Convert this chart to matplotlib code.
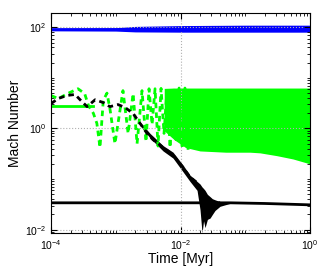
import numpy as np
import matplotlib
matplotlib.use("Agg")
import matplotlib.pyplot as plt
from matplotlib.ticker import LogLocator, NullFormatter

plt.rcParams['font.family'] = ['Liberation Sans', 'DejaVu Sans']
plt.rcParams['mathtext.fontset'] = 'custom'
plt.rcParams['mathtext.rm'] = 'Liberation Sans'
plt.rcParams['mathtext.it'] = 'Liberation Sans:italic'

# blue band near M ~ 90 (read as lower / upper envelope)
blue_t = [1e-4, 1e-3, 2e-3, 1e-2, 1e-1, 1.0]
blue_lo = [85, 84, 81, 80, 80, 80]
blue_hi = [96, 98, 104, 108, 110, 110]
blue_mid = [90, 90, 90, 89, 89, 89]

# green solid (flat, early times)
green_solid_t = [1e-4, 4.5e-4]
green_solid_m = [2.84, 2.84]

# green dashed, zigzag before it turns into a dense band
green_zig_t = [1.0e-4, 1.3e-4, 1.8e-4, 2.6e-4, 3.3e-4, 3.8e-4, 4.5e-4, 5.1e-4,
               5.7e-4, 6.4e-4, 7.3e-4, 8.1e-4, 9.7e-4, 1.29e-3, 1.55e-3, 1.85e-3,
               2.13e-3, 2.54e-3, 2.93e-3, 3.26e-3, 3.63e-3, 4.04e-3, 4.49e-3, 5.0e-3,
               5.56e-3, 6.19e-3, 6.89e-3, 7.66e-3, 8.53e-3, 9.49e-3, 1.06e-2, 1.17e-2,
               1.31e-2]
green_zig_m = [4.47, 3.9, 4.9, 6.1, 4.9, 2.8, 2.0, 1.26,
               0.42, 3.56, 5.0, 2.5, 0.5, 5.6, 0.8, 4.9,
               0.5, 5.6, 0.55, 6.1, 1.2, 6.1, 0.45, 6.2,
               0.8, 6.2, 0.42, 6.3, 0.6, 6.3, 0.4, 6.3,
               0.38]

# green dashed, dense oscillation band (envelopes)
green_band_t = [5.6e-3, 8e-3, 1.2e-2, 2e-2, 5e-2, 0.118, 0.169, 0.309, 0.546, 1.0]
green_band_lo = [0.9, 0.6, 0.42, 0.36, 0.34, 0.34, 0.33, 0.29, 0.25, 0.2]
green_band_hi = [6.2, 6.3, 6.3, 6.3, 6.3, 6.3, 6.3, 6.3, 6.3, 6.3]

# black solid
black_solid_t = [1e-4, 5.8e-2, 0.2, 1.0]
black_solid_m = [0.034, 0.034, 0.033, 0.031]

# black dashed, trend
black_dash_t = [1.0e-4, 1.28e-4, 1.77e-4, 2.35e-4, 2.81e-4, 3.6e-4, 4.8e-4, 6.4e-4,
                8.1e-4, 1.08e-3, 1.39e-3, 1.85e-3, 2.37e-3, 3.04e-3, 3.76e-3, 5.37e-3,
                7.66e-3, 1.09e-2, 1.4e-2, 1.8e-2, 2.0e-2, 2.39e-2, 2.86e-2, 4.07e-2]
black_dash_m = [3.1, 3.9, 4.5, 4.7, 3.7, 2.7, 3.7, 3.25,
                2.7, 2.97, 2.6, 1.98, 1.26, 0.8, 0.6, 0.42,
                0.3, 0.17, 0.11, 0.085, 0.065, 0.045, 0.036, 0.034]

# black dashed, scatter spread (envelopes)
black_band_t = [2.37e-3, 3.38e-3, 5.37e-3, 7.66e-3, 1.09e-2, 1.4e-2, 1.8e-2, 2.0e-2,
                2.15e-2, 2.27e-2, 2.39e-2, 2.6e-2, 2.86e-2, 3.1e-2, 3.41e-2, 4.07e-2,
                4.86e-2, 5.8e-2]
black_band_lo = [1.15, 0.65, 0.36, 0.26, 0.14, 0.09, 0.06, 0.025,
                 0.0087, 0.015, 0.011, 0.016, 0.017, 0.02, 0.024, 0.029,
                 0.031, 0.033]
black_band_hi = [1.35, 0.8, 0.46, 0.34, 0.19, 0.12, 0.09, 0.08,
                 0.07, 0.065, 0.06, 0.05, 0.045, 0.041, 0.039, 0.036,
                 0.035, 0.034]

fig = plt.figure(figsize=(3.36, 2.73), dpi=100)
ax = fig.add_axes([0.152, 0.1465, 0.7706, 0.8055])

green = (0, 1, 0)
ax.plot(green_solid_t, green_solid_m, color=green, lw=2)
ax.fill_between(blue_t, blue_lo, blue_hi, color='blue', lw=0)
ax.plot(blue_t, blue_mid, color='blue', lw=2)
ax.fill_between(green_band_t, green_band_lo, green_band_hi, color=green, lw=0)
ax.plot(green_zig_t, green_zig_m, color=green, lw=2, ls=(0, (2, 1.5)))
ax.plot(black_solid_t, black_solid_m, color='black', lw=2)
ax.fill_between(black_band_t, black_band_lo, black_band_hi, color='black', lw=0)
ax.plot(black_dash_t, black_dash_m, color='black', lw=2, ls=(0, (2, 1.5)))

ax.set_xscale('log')
ax.set_yscale('log')
ax.set_xlim(1e-4, 1.0)
ax.set_ylim(10**-2.065, 10**2.28)

ax.set_xticks([1e-4, 1e-2, 1.0])
ax.set_yticks([1e-2, 1.0, 1e2])
ax.xaxis.set_minor_locator(LogLocator(base=10, subs=np.arange(1, 10), numticks=20))
ax.yaxis.set_minor_locator(LogLocator(base=10, subs=np.arange(1, 10), numticks=20))
ax.xaxis.set_minor_formatter(NullFormatter())
ax.yaxis.set_minor_formatter(NullFormatter())
ax.tick_params(which='both', direction='in', top=True, right=True, labelsize=7.5)
ax.tick_params(which='major', length=4)
ax.tick_params(which='minor', length=2)
ax.grid(True, which='major', ls=':', color='#b0b0b0', lw=0.8)

for s in ax.spines.values():
    s.set_linewidth(0.8)

ax.set_xlabel('Time [Myr]', fontsize=10, labelpad=0)
ax.set_ylabel('Mach Number', fontsize=10, labelpad=2)

fig.savefig('out.png', dpi=100)
